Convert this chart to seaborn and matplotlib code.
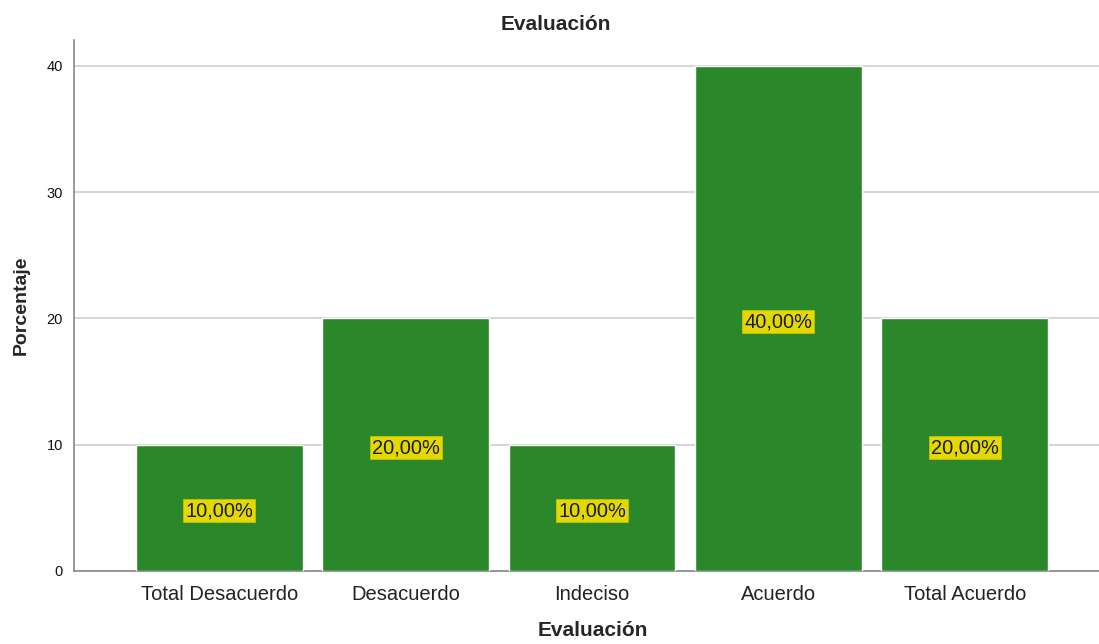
import matplotlib
matplotlib.use("Agg")
import matplotlib.pyplot as plt
import seaborn as sns
import pandas as pd

# datos del gráfico
categorias = ["Total Desacuerdo", "Desacuerdo", "Indeciso", "Acuerdo", "Total Acuerdo"]
porcentajes = [10, 20, 10, 40, 20]
etiquetas = ["10,00%", "20,00%", "10,00%", "40,00%", "20,00%"]

df = pd.DataFrame({"Evaluación": categorias, "Porcentaje": porcentajes})

sns.set_style("white")
plt.rcParams["font.family"] = ["Liberation Sans", "DejaVu Sans"]

fig = plt.figure(figsize=(10.99, 6.44), dpi=100)
ax = fig.add_axes([0.0673, 0.1134, 0.9327, 0.8246])

sns.barplot(data=df, x="Evaluación", y="Porcentaje", color="#2a872a",
            saturation=1, width=0.895, ax=ax, zorder=3)

for i, (v, txt) in enumerate(zip(porcentajes, etiquetas)):
    ax.text(i, v / 2 - 0.25, txt, ha="center", va="center", fontsize=14.4,
            color="#1a1a1a", zorder=4,
            bbox=dict(boxstyle="square,pad=0.1", fc="#e3d900", ec="#c9c000", lw=0.6))

ax.set_ylim(0, 42.06)
ax.set_xlim(-0.78, 4.72)
ax.set_yticks([0, 10, 20, 30, 40])
ax.yaxis.grid(True, color="#cfcfcf", lw=1.2, zorder=0)
ax.set_axisbelow(True)

for s in ["top", "right"]:
    ax.spines[s].set_visible(False)
for s in ["left", "bottom"]:
    ax.spines[s].set_color("#888888")
    ax.spines[s].set_linewidth(1.2)

ax.tick_params(axis="y", labelsize=10.5, length=0, pad=8, labelcolor="#111111")
ax.tick_params(axis="x", labelsize=14.5, length=0, pad=10, labelcolor="#222222")

ax.set_title("Evaluación", fontsize=15, fontweight="bold", x=0.47, pad=7)
ax.set_xlabel("Evaluación", fontsize=15, fontweight="bold")
ax.xaxis.set_label_coords(0.506, -0.095)
ax.set_ylabel("Porcentaje", fontsize=14, fontweight="bold", labelpad=12)

fig.savefig("out.png", dpi=100)
